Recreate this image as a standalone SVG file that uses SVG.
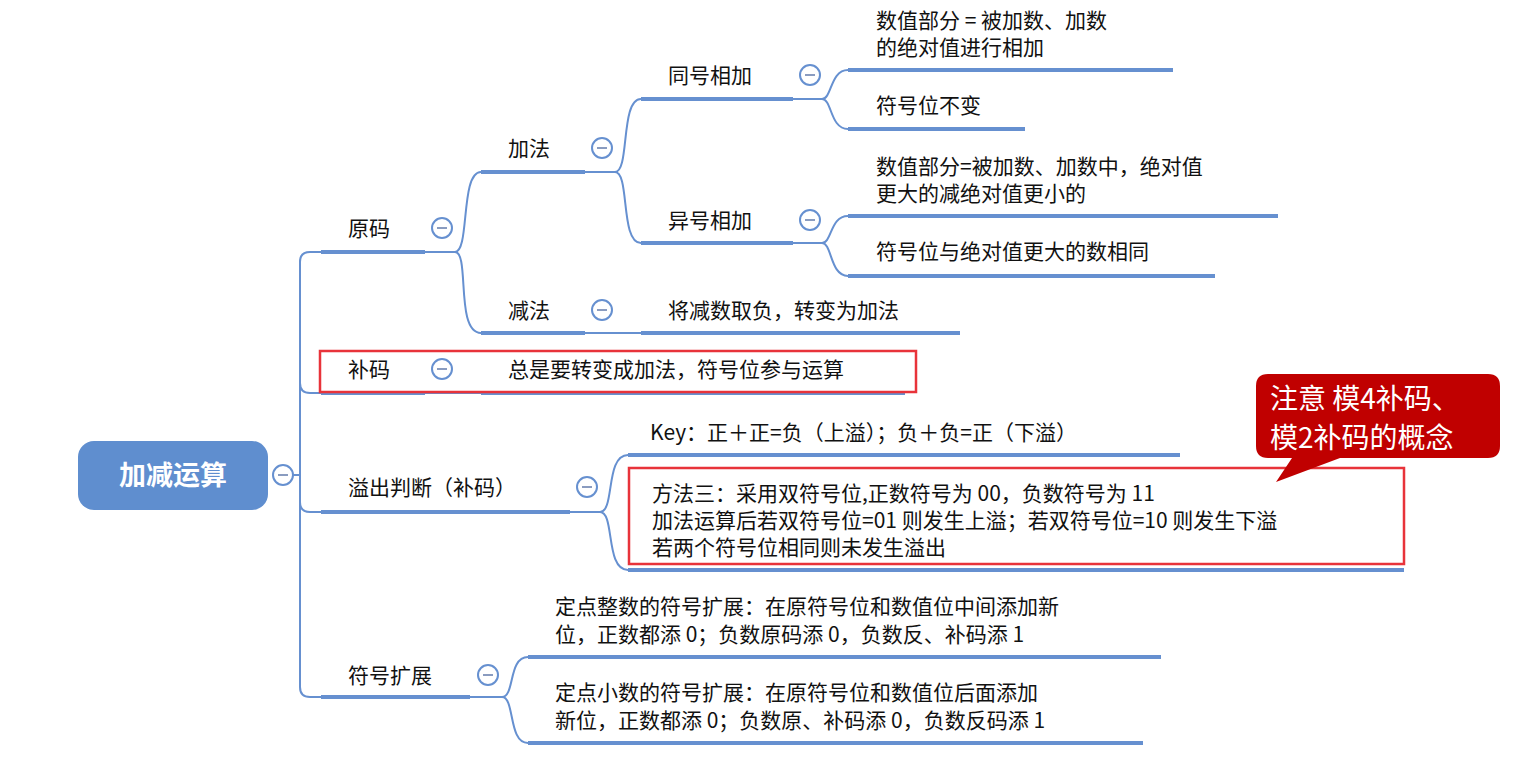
<svg xmlns="http://www.w3.org/2000/svg" width="1536" height="783" viewBox="0 0 1536 783">
<style>
text{font-family:"Noto Sans CJK SC","Noto Sans",sans-serif;font-size:21px;fill:#111}
.ul{stroke:#6690d0;stroke-width:4;fill:none}
.cn{stroke:#6690d0;stroke-width:2;fill:none}
.cc{fill:#fff;stroke:#6690d0;stroke-width:2}
.cm{stroke:#8a9cc0;stroke-width:2}
.rb{fill:none;stroke:#e8333a;stroke-width:2.5}
</style>
<defs>
<g id="col"><circle r="10" class="cc"/><line x1="-5" x2="5" class="cm"/></g>
</defs>
<rect width="1536" height="783" fill="#fff"/>
<g id="connectors">
<path class="cn" d="M293,475 H300 M321,252 H310 Q300,252 300,262 V687 Q300,697 310,697 H321 M300,383 Q300,393 310,393 H321 M300,502 Q300,512 310,512 H321"/>
<path class="cn" d="M425,252 H455 M455,252 C470,252 460,172 481,172 M455,252 C470,252 455,333 481,333"/>
<path class="cn" d="M585,172 H615 M615,172 C630,172 620,99 641,99 M615,172 C630,172 620,243 641,243"/>
<path class="cn" d="M793,99 H822 M822,99 C832,99 830,70 848,70 M822,99 C832,99 830,129 848,129"/>
<path class="cn" d="M793,243 H822 M822,243 C832,243 830,216 848,216 M822,243 C832,243 830,276 848,276"/>
<path class="cn" d="M585,333 H641"/>
<path class="cn" d="M425,393 H481"/>
<path class="cn" d="M570,512 H600 M600,512 C615,512 605,455 628,455 M600,512 C615,512 605,570 628,570"/>
<path class="cn" d="M470,697 H502 M502,697 C515,697 508,657 528,657 M502,697 C515,697 508,743 528,743"/>
</g>
<g id="root"><rect x="78" y="441" width="190" height="69" rx="16" fill="#5f8ecf"/><text x="173" y="485" text-anchor="middle" style="fill:#fff;font-size:27px;font-weight:bold">加减运算</text><use href="#col" x="283" y="475"/></g>
<g id="yuanma"><text x="348" y="236">原码</text><line class="ul" x1="321" x2="425" y1="252" y2="252"/><use href="#col" x="442" y="228"/></g>
<g id="jiafa"><text x="508" y="156">加法</text><line class="ul" x1="481" x2="585" y1="172" y2="172"/><use href="#col" x="602" y="148"/></g>
<g id="tonghao"><text x="668" y="83">同号相加</text><line class="ul" x1="641" x2="793" y1="99" y2="99"/><use href="#col" x="810" y="75"/></g>
<g id="t1"><text x="876" y="28">数值部分 = 被加数、加数</text><text x="876" y="55">的绝对值进行相加</text><line class="ul" x1="848" x2="1173" y1="70" y2="70"/></g>
<g id="t2"><text x="876" y="113">符号位不变</text><line class="ul" x1="848" x2="1025" y1="129" y2="129"/></g>
<g id="yihao"><text x="668" y="228">异号相加</text><line class="ul" x1="641" x2="793" y1="243" y2="243"/><use href="#col" x="810" y="220"/></g>
<g id="y1"><text x="876" y="174">数值部分=被加数、加数中，绝对值</text><text x="876" y="201">更大的减绝对值更小的</text><line class="ul" x1="848" x2="1278" y1="216" y2="216"/></g>
<g id="y2"><text x="876" y="259">符号位与绝对值更大的数相同</text><line class="ul" x1="848" x2="1215" y1="276" y2="276"/></g>
<g id="jianfa"><text x="508" y="318">减法</text><line class="ul" x1="481" x2="585" y1="333" y2="333"/><use href="#col" x="602" y="310"/></g>
<g id="j1"><text x="668" y="318">将减数取负，转变为加法</text><line class="ul" x1="641" x2="960" y1="333" y2="333"/></g>
<g id="buma"><text x="348" y="377">补码</text><line class="ul" x1="321" x2="425" y1="393" y2="393"/><use href="#col" x="442" y="369"/></g>
<g id="b1"><text x="508" y="377">总是要转变成加法，符号位参与运算</text><line class="ul" x1="481" x2="905" y1="393" y2="393"/></g>
<rect class="rb" x="320" y="351" width="596" height="41"/>
<g id="yichu"><text x="348" y="495">溢出判断（补码）</text><line class="ul" x1="321" x2="570" y1="512" y2="512"/><use href="#col" x="587" y="487"/></g>
<g id="key"><text x="650" y="440">Key：正＋正=负（上溢）；负＋负=正（下溢）</text><line class="ul" x1="628" x2="1180" y1="455" y2="455"/></g>
<g id="m3"><text x="652" y="501">方法三：采用双符号位,正数符号为 00，负数符号为 11</text><text x="652" y="528">加法运算后若双符号位=01 则发生上溢；若双符号位=10 则发生下溢</text><text x="652" y="555">若两个符号位相同则未发生溢出</text><line class="ul" x1="628" x2="1404" y1="570" y2="570"/></g>
<rect class="rb" x="629" y="468" width="775" height="96"/>
<g id="kuozhan"><text x="348" y="683">符号扩展</text><line class="ul" x1="321" x2="470" y1="697" y2="697"/><use href="#col" x="488" y="675"/></g>
<g id="k1"><text x="555" y="614">定点整数的符号扩展：在原符号位和数值位中间添加新</text><text x="555" y="642">位，正数都添 0；负数原码添 0，负数反、补码添 1</text><line class="ul" x1="528" x2="1161" y1="657" y2="657"/></g>
<g id="k2"><text x="555" y="700">定点小数的符号扩展：在原符号位和数值位后面添加</text><text x="555" y="728">新位，正数都添 0；负数原、补码添 0，负数反码添 1</text><line class="ul" x1="528" x2="1143" y1="743" y2="743"/></g>
<g id="callout"><path d="M1268,374 H1488 Q1500,374 1500,386 V446 Q1500,458 1488,458 H1340 L1276,482 L1292,458 H1268 Q1256,458 1256,446 V386 Q1256,374 1268,374 Z" fill="#c00000"/><text x="1270" y="409" style="fill:#fff;font-size:28px">注意 模4补码、</text><text x="1270" y="448" style="fill:#fff;font-size:28px">模2补码的概念</text></g>
</svg>
